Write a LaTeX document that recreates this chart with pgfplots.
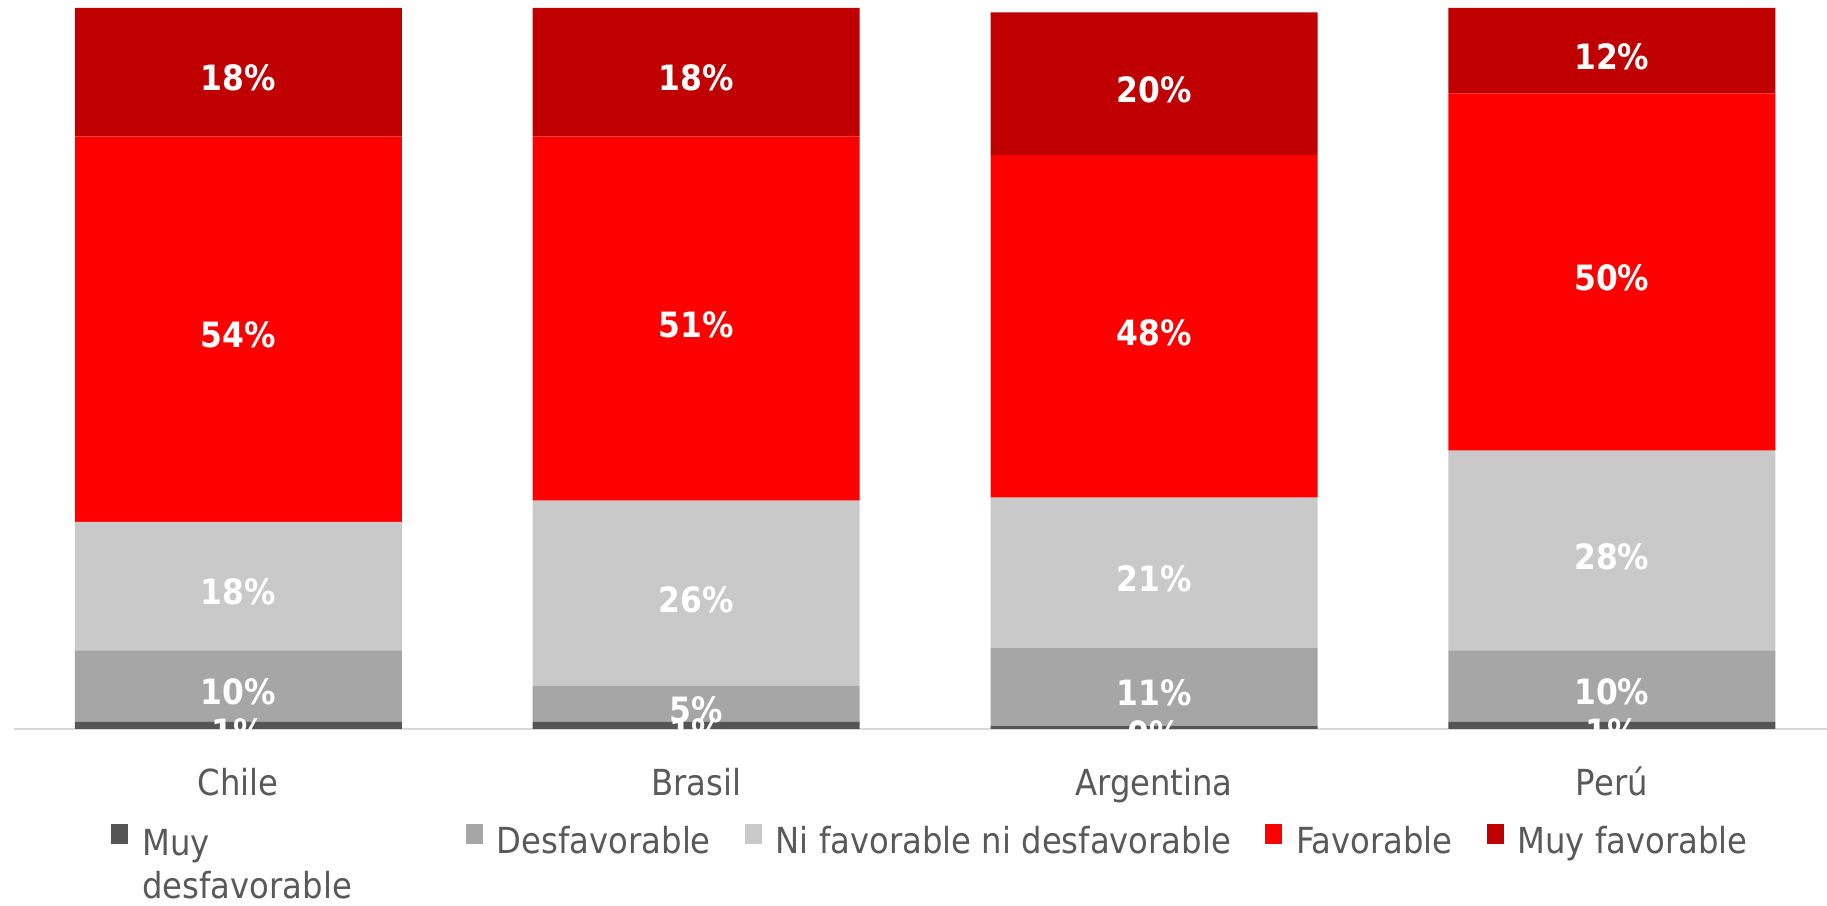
\documentclass[border=0pt]{standalone}
\usepackage{fontspec}
\setmainfont{DejaVu Sans}[FakeStretch=0.9]
\usepackage{pgfplots}
\usepackage{pgfplotstable}
\pgfplotsset{compat=1.18}

\definecolor{cMD}{HTML}{555555}
\definecolor{cD}{HTML}{A6A6A6}
\definecolor{cN}{HTML}{C9C9C9}
\definecolor{cF}{HTML}{FF0000}
\definecolor{cMF}{HTML}{C00000}
\definecolor{txt}{HTML}{595959}
\definecolor{axl}{HTML}{D9D9D9}

\pgfplotsset{sq/.style={fill=#1, draw=none,
  legend image code/.code={\fill[#1] (0bp,-1bp) rectangle (8.5bp,9bp);}}}

% shares in percent, bottom segment first
\pgfplotstableread{
x mdes des ni fav mfav
0 1   10 18 54 18
1 1   5  26 51 18
2 0.4 11 21 48 20
3 1   10 28 50 12
}\datatable

\begin{document}
\begin{tikzpicture}
\path[use as bounding box] (0,0) rectangle (913.5bp,453bp);
\begin{axis}[
  at={(7bp,88.5bp)}, anchor=south west,
  scale only axis, width=906.5bp, height=360.5bp,
  xmin=-0.49, xmax=3.47, ymin=0, ymax=101,
  ybar stacked, bar width=163.5bp,
  axis x line*=bottom, axis y line=none,
  x axis line style={draw=axl, line width=1.2bp},
  xtick={0,1,2,3}, xticklabels={Chile,Brasil,Argentina,Perú},
  major tick length=0pt, ytick=\empty,
  xticklabel style={anchor=base, yshift=-33bp, text=txt,
    font=\fontsize{18}{21.6}\selectfont},
  point meta=rawy,
  nodes near coords={\pgfmathprintnumber[fixed,precision=0,assume math mode=true]{\pgfplotspointmeta}\%},
  every node near coord/.append style={anchor=center, yshift=-3bp,
    text=white, font=\fontsize{17.5}{20}\bfseries\selectfont},
  legend columns=5,
  legend style={at={(0.0535,-0.127)}, anchor=north west, draw=none, fill=none,
    inner sep=0pt, text=txt, font=\fontsize{18}{21.6}\selectfont,
    nodes={inner sep=2bp},
    /tikz/every odd column/.append style={column sep=5bp},
    /tikz/every even column/.append style={column sep=15bp}},
]
\addplot[sq=cMD] table[x=x, y=mdes] {\datatable};
\addlegendentry{\begin{tabular}[t]{@{}l@{}}\fontsize{18}{17}\selectfont Muy\\\fontsize{18}{17}\selectfont desfavorable\end{tabular}\hspace*{40bp}}
\addplot[sq=cD] table[x=x, y=des] {\datatable};
\addlegendentry{Desfavorable}
\addplot[sq=cN] table[x=x, y=ni] {\datatable};
\addlegendentry{Ni favorable ni desfavorable}
\addplot[sq=cF] table[x=x, y=fav] {\datatable};
\addlegendentry{Favorable}
\addplot[sq=cMF] table[x=x, y=mfav] {\datatable};
\addlegendentry{Muy favorable}
\end{axis}
\end{tikzpicture}
\end{document}
